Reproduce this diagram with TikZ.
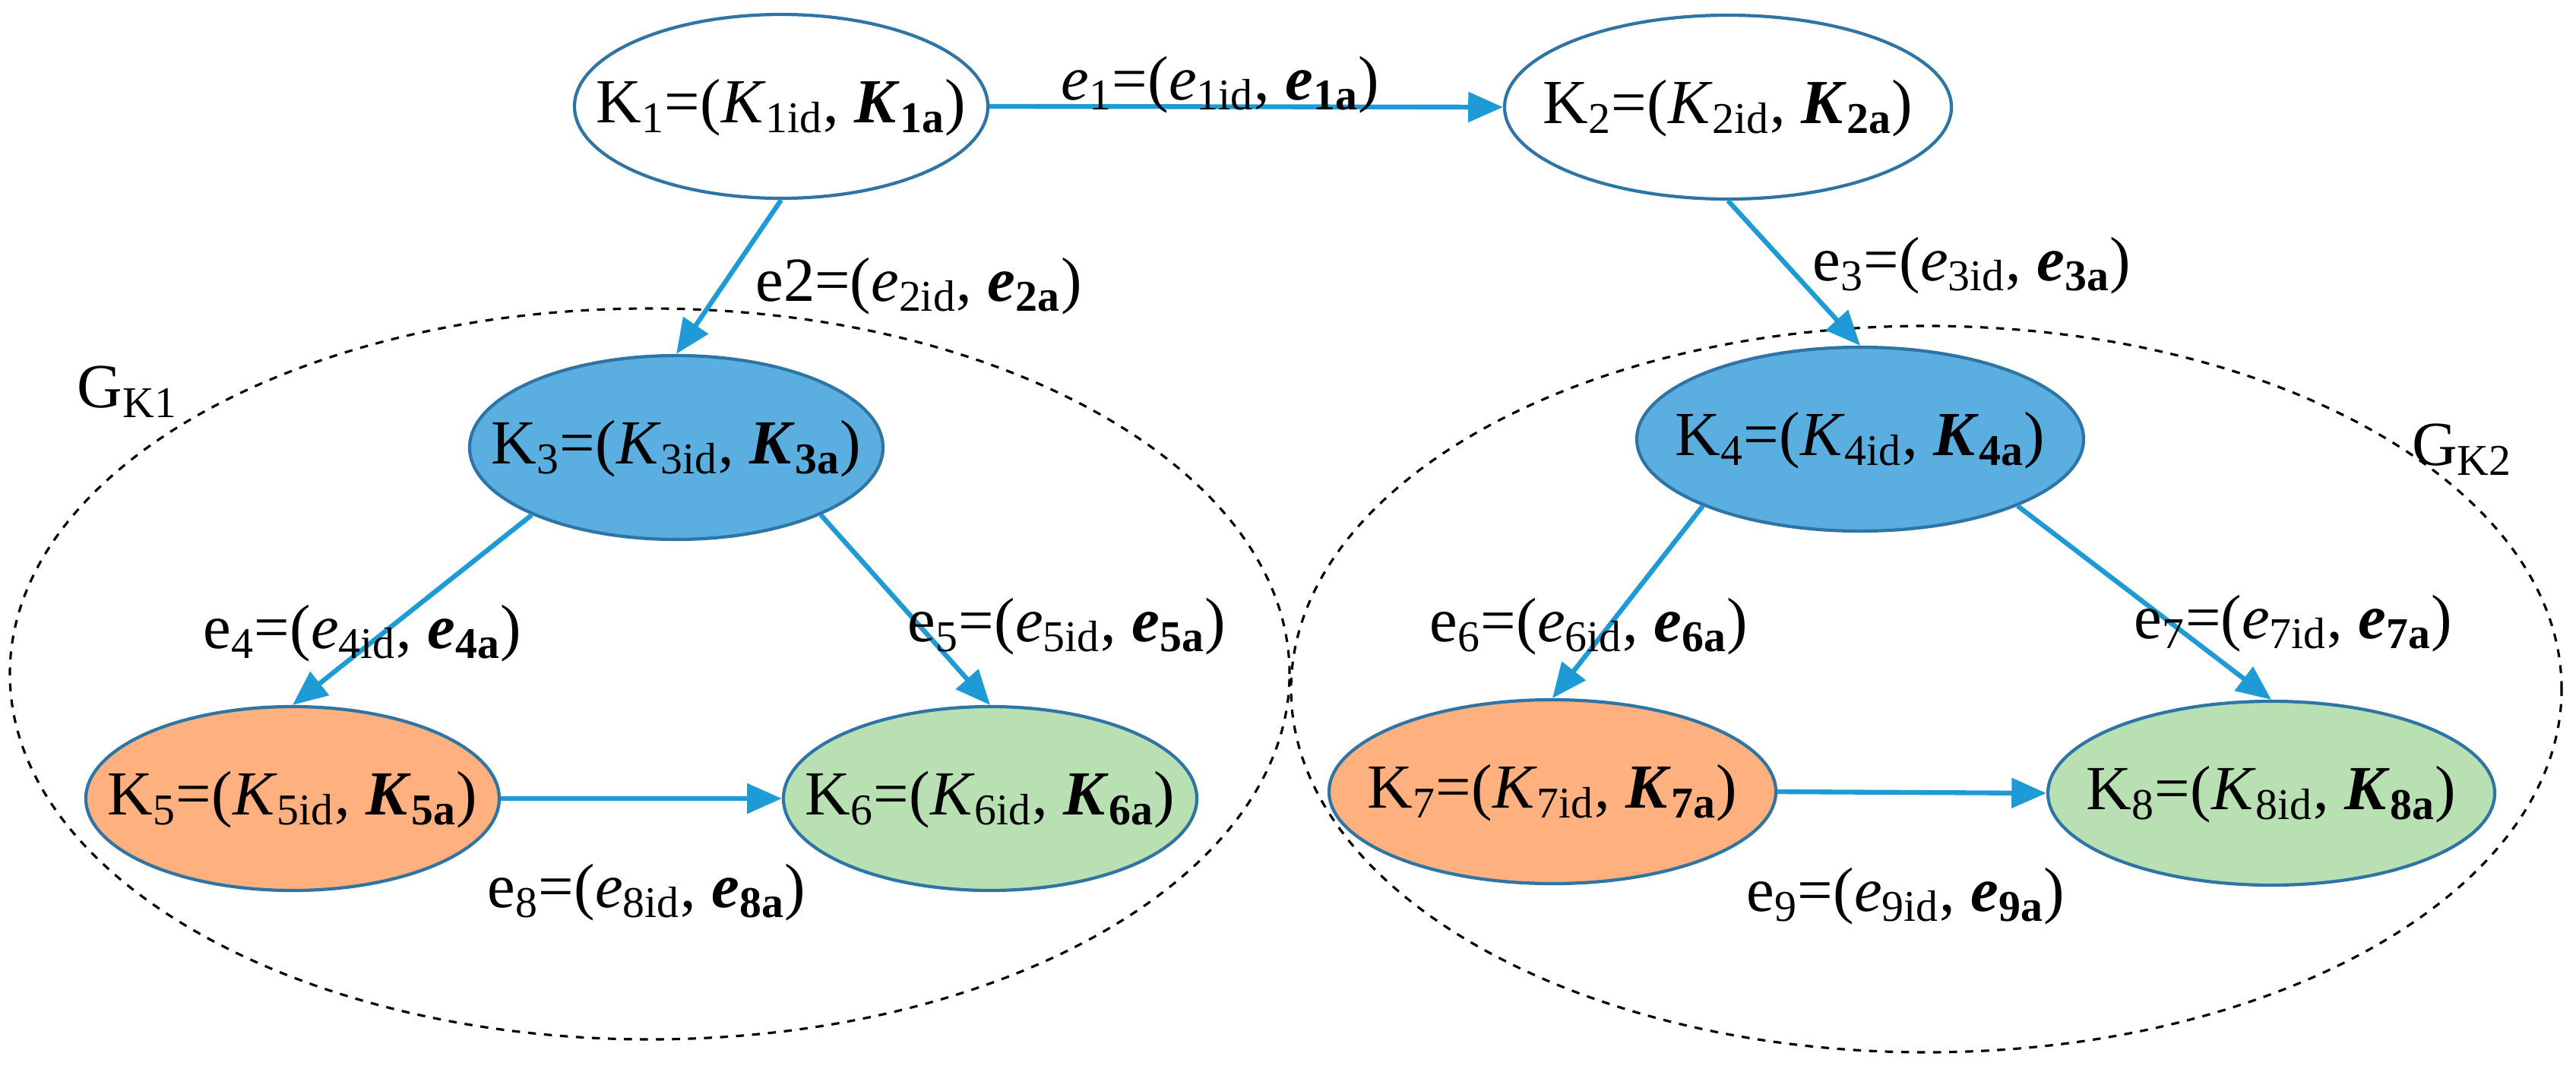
\documentclass[tikz,border=0pt]{standalone}
\usepackage{fontspec}
\setmainfont{Liberation Serif}
\usetikzlibrary{shapes.geometric,arrows.meta}
\definecolor{edgeblue}{HTML}{1E9AD6}
\definecolor{rimblue}{HTML}{2E75A6}
\definecolor{fillblue}{HTML}{5BAEE0}
\definecolor{fillorange}{HTML}{FFB07F}
\definecolor{fillgreen}{HTML}{B9E0B2}
\newcommand{\kl}[1]{\makebox[0pt]{\raisebox{-12pt}{\smash{K\textsubscript{#1}=(\textit{K}\textsubscript{#1id}, \textbf{\textit{K}\textsubscript{#1a}})}}}}
\newcommand{\el}[1]{e\textsubscript{#1}=(\textit{e}\textsubscript{#1id}, \textbf{\textit{e}\textsubscript{#1a}})}
\begin{document}
\begin{tikzpicture}[font=\fontsize{23.5}{27}\selectfont,
  kn/.style={ellipse,draw=rimblue,line width=1.2pt,inner sep=0pt,minimum height=2.42cm},
  kw/.style={kn,minimum width=5.44cm},
  kv/.style={kn,minimum width=5.88cm},
  grp/.style={ellipse,draw=black,dashed,line width=0.9pt,inner sep=0pt},
  arr/.style={draw=edgeblue,line width=1.8pt,-{Triangle[length=13pt,width=11pt]}},
  lab/.style={inner sep=1pt}]
\useasboundingbox (0,0) rectangle (33.9,-14.06);
\node[grp,minimum width=16.84cm,minimum height=9.62cm] (g1) at (8.55,-8.87) {};
\node[grp,minimum width=16.72cm,minimum height=9.56cm] (g2) at (25.35,-9.07) {};
\node[kw,fill=white] (k1) at (10.28,-1.40) {\kl{1}};
\node[kv,fill=white] (k2) at (22.74,-1.41) {\kl{2}};
\node[kw,fill=fillblue] (k3) at (8.90,-5.89) {\kl{3}};
\node[kv,fill=fillblue] (k4) at (24.48,-5.78) {\kl{4}};
\node[kw,fill=fillorange] (k5) at (3.85,-10.51) {\kl{5}};
\node[kw,fill=fillgreen] (k6) at (13.03,-10.51) {\kl{6}};
\node[kv,fill=fillorange] (k7) at (20.43,-10.42) {\kl{7}};
\node[kv,fill=fillgreen] (k8) at (29.89,-10.44) {\kl{8}};
\draw[arr] (k1.east) -- (k2.west);
\draw[arr] (k1.south) -- (k3.north);
\draw[arr] (k2.south) -- (k4.north);
\draw[arr] (k3.205) -- (k5.north);
\draw[arr] (k3.-25) -- (k6.north);
\draw[arr] (k4.203) -- (k7.north);
\draw[arr] (k4.-23) -- (k8.north);
\draw[arr] (k5.east) -- (k6.west);
\draw[arr] (k7.east) -- (k8.west);
\node[lab] (l1) at (16.06,-1.12) {\textit{e}\textsubscript{1}=(\textit{e}\textsubscript{1id}, \textbf{\textit{e}\textsubscript{1a}})};
\node[lab] (l2) at (12.09,-3.77) {e2=(\textit{e}\textsubscript{2id}, \textbf{\textit{e}\textsubscript{2a}})};
\node[lab] (l3) at (25.95,-3.50) {\el{3}};
\node[lab] (l4) at (4.77,-8.34) {\el{4}};
\node[lab] (l5) at (14.04,-8.25) {\el{5}};
\node[lab] (l6) at (20.91,-8.25) {\el{6}};
\node[lab] (l7) at (30.18,-8.21) {\el{7}};
\node[lab] (l8) at (8.51,-11.75) {\el{8}};
\node[lab] (l9) at (25.08,-11.80) {\el{9}};
\node[lab] (gl1) at (1.68,-5.16) {G\textsubscript{K1}};
\node[lab] (gl2) at (32.40,-5.92) {G\textsubscript{K2}};
\end{tikzpicture}
\end{document}
